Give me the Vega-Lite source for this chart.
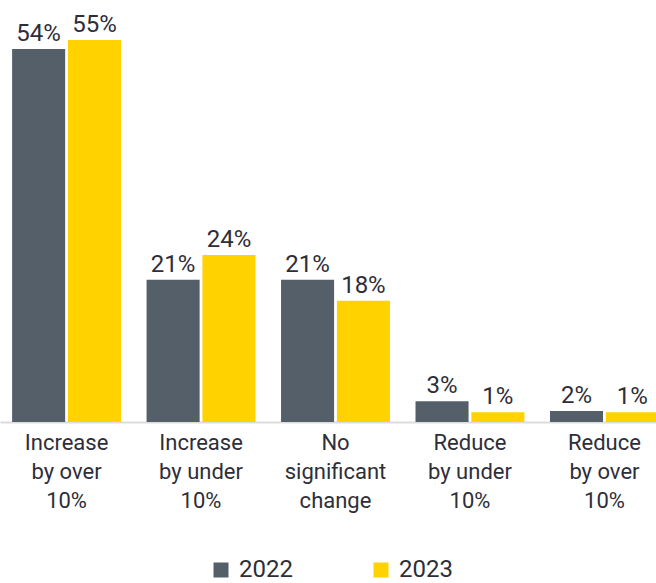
{
  "$schema": "https://vega.github.io/schema/vega-lite/v6.json",
  "width": 656,
  "height": 416,
  "autosize": {"type": "none"},
  "padding": {"top": 6, "left": 0, "right": 0, "bottom": 161},
  "background": "white",
  "config": {
    "view": {"stroke": null},
    "font": "Roboto",
    "text": {"font": "Roboto"}
  },
  "data": {
    "values": [
      {"category": "Increase\nby over\n10%", "year": "2022", "value": 53.8, "label": "54%"},
      {"category": "Increase\nby over\n10%", "year": "2023", "value": 55.1, "label": "55%"},
      {"category": "Increase\nby under\n10%", "year": "2022", "value": 20.5, "label": "21%"},
      {"category": "Increase\nby under\n10%", "year": "2023", "value": 24.1, "label": "24%"},
      {"category": "No\nsignificant\nchange", "year": "2022", "value": 20.5, "label": "21%"},
      {"category": "No\nsignificant\nchange", "year": "2023", "value": 17.5, "label": "18%"},
      {"category": "Reduce\nby under\n10%", "year": "2022", "value": 3.0, "label": "3%"},
      {"category": "Reduce\nby under\n10%", "year": "2023", "value": 1.4, "label": "1%"},
      {"category": "Reduce\nby over\n10%", "year": "2022", "value": 1.6, "label": "2%"},
      {"category": "Reduce\nby over\n10%", "year": "2023", "value": 1.4, "label": "1%"}
    ]
  },
  "encoding": {
    "x": {
      "field": "category",
      "type": "nominal",
      "sort": null,
      "title": null,
      "scale": {"range": [0, 671], "paddingInner": 0.19, "paddingOuter": 0.09},
      "axis": {
        "labelAngle": 0,
        "labelExpr": "split(datum.label, '\\n')",
        "labelFontSize": 22,
        "labelColor": "#2e2e38",
        "labelLineHeight": 29,
        "labelPadding": 10,
        "ticks": false,
        "domainColor": "#dcdcdc",
        "domainWidth": 2,
        "labelBaseline": "top"
      }
    },
    "xOffset": {"field": "year", "type": "nominal", "scale": {"paddingInner": 0.05}},
    "y": {
      "field": "value",
      "type": "quantitative",
      "scale": {"domain": [0, 60]},
      "axis": null
    }
  },
  "layer": [
    {
      "mark": {"type": "bar"},
      "encoding": {
        "color": {
          "field": "year",
          "type": "nominal",
          "scale": {"domain": ["2022", "2023"], "range": ["#545f6a", "#ffd200"]},
          "legend": {
            "orient": "none",
            "legendX": 209,
            "legendY": 552,
            "direction": "horizontal",
            "title": null,
            "symbolType": "square",
            "symbolSize": 225,
            "symbolStrokeWidth": 0,
            "symbolOpacity": 1,
            "labelFontSize": 24,
            "labelColor": "#2e2e38",
            "labelOffset": 6,
            "columnPadding": 76
          }
        }
      }
    },
    {
      "mark": {"type": "text", "baseline": "bottom", "dy": -3, "fontSize": 24, "color": "#2e2e38"},
      "encoding": {
        "text": {"field": "label"}
      }
    }
  ]
}
